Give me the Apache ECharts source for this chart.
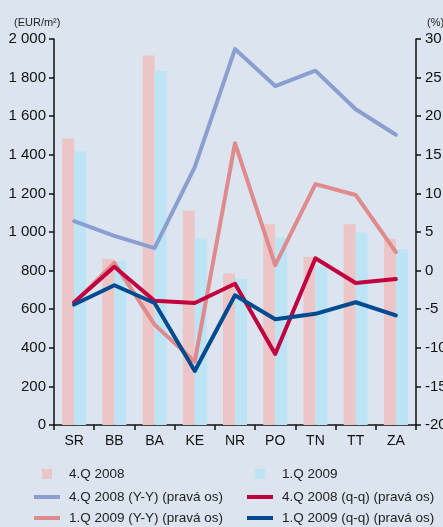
<!DOCTYPE html>
<html>
<head>
<meta charset="utf-8">
<script src="https://cdn.jsdelivr.net/npm/echarts@6/dist/echarts.min.js"></script>
<style>
  html, body { margin: 0; padding: 0; background: #dce5ef; overflow: hidden; }
  #chart { width: 443px; height: 527px; }
</style>
</head>
<body>
<div id="chart"></div>
<script>
// kraje
const regions = ["SR", "BB", "BA", "KE", "NR", "PO", "TN", "TT", "ZA"];
// ceny (EUR/m2)
const price4Q2008 = [1485, 860, 1915, 1110, 785, 1040, 872, 1040, 965];
const price1Q2009 = [1418, 848, 1834, 966, 758, 972, 822, 998, 910];
// zmeny (%) – pravá os
const yy4Q2008 = [6.4, 4.5, 2.9, 13.4, 28.7, 23.9, 25.9, 20.9, 17.6];
const yy1Q2009 = [-4.2, 1.0, -7.0, -11.8, 16.5, 0.7, 11.2, 9.8, 2.4];
const qq4Q2008 = [-4.1, 0.5, -3.9, -4.2, -1.7, -10.8, 1.6, -1.6, -1.1];
const qq1Q2009 = [-4.4, -1.9, -4.2, -13.0, -3.2, -6.3, -5.6, -4.1, -5.8];

const FONT = "'Liberation Sans', Arial, sans-serif";
const lineIcon = "path://M0,0H26V4H0Z";

const chart = echarts.init(document.getElementById("chart"));

const axisLine = { show: true, lineStyle: { color: "#111", width: 1.5 } };
const axisTick = { show: true, length: 5, lineStyle: { color: "#111", width: 1.5 } };

function lineSeries(name, data, color) {
  return {
    name: name,
    type: "line",
    yAxisIndex: 1,
    data: data,
    symbol: "none",
    lineStyle: { color: color, width: 4, cap: "round", join: "round" },
    itemStyle: { color: color },
    z: 3,
  };
}

// jedna položka legendy = jedna legenda (kvôli presnému umiestneniu)
function legendLine(name, left, centerY) {
  return {
    left: left,
    top: centerY - 7,
    padding: 0,
    itemWidth: 26,
    itemHeight: 11,
    textStyle: { fontSize: 13.5, color: "#222", fontFamily: FONT, padding: [0, 0, 0, 4] },
    data: [{ name: name, icon: lineIcon }],
  };
}
function legendBox(name, left, centerY) {
  return {
    left: left + 8,
    top: centerY - 7,
    padding: 0,
    itemWidth: 10,
    itemHeight: 10,
    textStyle: { fontSize: 13.5, color: "#222", fontFamily: FONT, padding: [0, 0, 0, 12] },
    data: [{ name: name, icon: "rect" }],
  };
}

const option = {
  backgroundColor: "#dce5ef",
  animation: false,
  textStyle: { fontFamily: FONT },
  title: [
    {
      text: "(EUR/m²)",
      left: 9,
      top: 12,
      textStyle: { fontSize: 11, fontWeight: "normal", color: "#222", fontFamily: FONT },
    },
    {
      text: "(%)",
      left: 422,
      top: 12,
      textStyle: { fontSize: 11, fontWeight: "normal", color: "#222", fontFamily: FONT },
    },
  ],
  grid: { left: 54, right: 27, top: 39, bottom: 102, containLabel: false, outerBoundsMode: "none" },
  legend: [
    legendBox("4.Q 2008", 34, 474),
    legendBox("1.Q 2009", 247, 474),
    legendLine("4.Q 2008 (Y-Y) (pravá os)", 34, 497),
    legendLine("4.Q 2008 (q-q) (pravá os)", 247, 497),
    legendLine("1.Q 2009 (Y-Y) (pravá os)", 34, 518),
    legendLine("1.Q 2009 (q-q) (pravá os)", 247, 518),
  ],
  xAxis: {
    type: "category",
    data: regions,
    axisLine: axisLine,
    axisTick: axisTick,
    axisLabel: { fontSize: 14, color: "#111", margin: 9, fontFamily: FONT },
    splitLine: { show: false },
  },
  yAxis: [
    {
      type: "value",
      min: 0,
      max: 2000,
      interval: 200,
      axisLine: axisLine,
      axisTick: axisTick,
      splitLine: { show: false },
      axisLabel: {
        fontSize: 15,
        color: "#111",
        margin: 8,
        fontFamily: FONT,
        formatter: (v) => String(v).replace(/\B(?=(\d{3})+(?!\d))/g, " "),
      },
    },
    {
      type: "value",
      min: -20,
      max: 30,
      interval: 5,
      position: "right",
      axisLine: axisLine,
      axisTick: axisTick,
      splitLine: { show: false },
      axisLabel: { fontSize: 15, color: "#111", margin: 9, fontFamily: FONT },
    },
  ],
  series: [
    {
      name: "4.Q 2008",
      type: "bar",
      data: price4Q2008,
      barWidth: 12,
      barGap: "0%",
      itemStyle: { color: "#ecc5c7" },
    },
    {
      name: "1.Q 2009",
      type: "bar",
      data: price1Q2009,
      barWidth: 12,
      barGap: "0%",
      itemStyle: { color: "#bce4f5" },
    },
    lineSeries("4.Q 2008 (Y-Y) (pravá os)", yy4Q2008, "#8a9fcf"),
    lineSeries("1.Q 2009 (Y-Y) (pravá os)", yy1Q2009, "#df8a8c"),
    lineSeries("4.Q 2008 (q-q) (pravá os)", qq4Q2008, "#c2003f"),
    lineSeries("1.Q 2009 (q-q) (pravá os)", qq1Q2009, "#004b8f"),
  ],
};

chart.setOption(option);
</script>
</body>
</html>
